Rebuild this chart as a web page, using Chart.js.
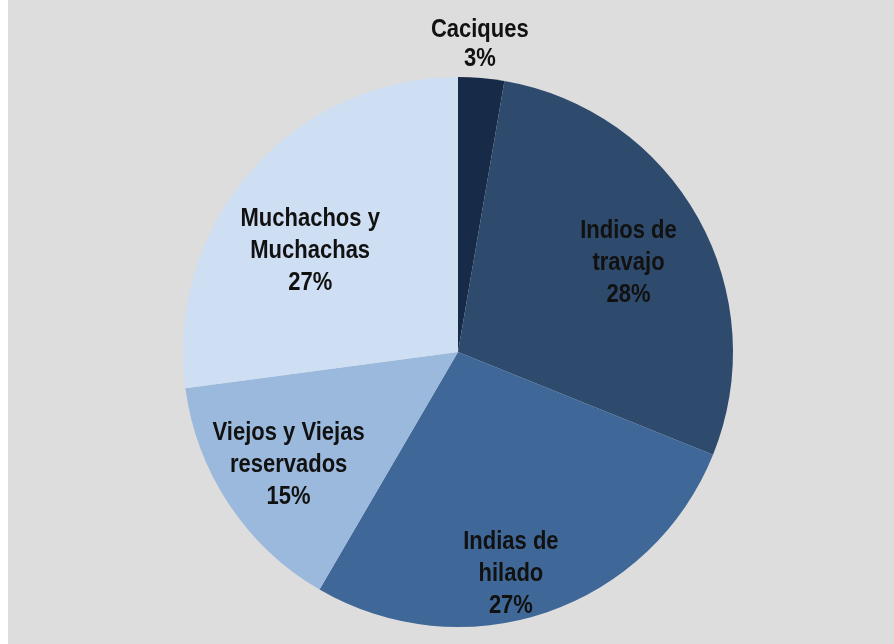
<!DOCTYPE html>
<html>
<head>
<meta charset="utf-8">
<script src="https://cdn.jsdelivr.net/npm/chart.js@4/dist/chart.umd.min.js"></script>
<style>
  html, body { margin:0; padding:0; background:#fff; }
  #wrap { position:absolute; left:8px; top:0; width:886px; height:644px; background:#dddddd; }
</style>
</head>
<body>
<div id="wrap"><canvas id="pie" width="886" height="644"></canvas></div>
<script>
const categories = ['Caciques', 'Indios de travajo', 'Indias de hilado', 'Viejos y Viejas reservados', 'Muchachos y Muchachas'];
const labelLines = [['Caciques'], ['Indios de', 'travajo'], ['Indias de', 'hilado'], ['Viejos y Viejas', 'reservados'], ['Muchachos y', 'Muchachas']];
const shares = [2.7, 28.4, 27.3, 14.5, 27.1];
const colors = ['#172b48', '#2e4a6c', '#3f6898', '#9bb9dc', '#cedef3'];

// label placement: fraction of radius and angular nudge (degrees)
const labelRadius = [1.12, 0.70, 0.83, 0.74, 0.65];
const labelNudge = [-0.8, 1.5, 5.5, 0, -7];

const fontFamily = '"Liberation Sans", Arial, sans-serif';

const labelPlugin = {
  id: 'sliceLabels',
  afterDatasetsDraw(chart) {
    const ctx = chart.ctx;
    const meta = chart.getDatasetMeta(0);
    ctx.save();
    ctx.fillStyle = '#111';
    ctx.font = 'bold 25px ' + fontFamily;
    ctx.textAlign = 'center';
    ctx.textBaseline = 'middle';
    meta.data.forEach((arc, i) => {
      const mid = (arc.startAngle + arc.endAngle) / 2 + labelNudge[i] * Math.PI / 180;
      const r = arc.outerRadius * labelRadius[i];
      const x = arc.x + Math.cos(mid) * r;
      const y = arc.y + Math.sin(mid) * r;
      const lines = labelLines[i].concat([Math.round(shares[i]) + '%']);
      const lh = i === 0 ? 29 : 32;
      const y0 = y - (lines.length - 1) * lh / 2;
      // narrow look: squeeze glyphs horizontally
      lines.forEach((t, k) => {
        ctx.save();
        ctx.translate(x, y0 + k * lh);
        ctx.scale(0.88, 1);
        ctx.fillText(t, 0, 0);
        ctx.restore();
      });
    });
    ctx.restore();
  }
};

new Chart(document.getElementById('pie'), {
  type: 'pie',
  data: { labels: categories, datasets: [{ data: shares, backgroundColor: colors, borderWidth: 0 }] },
  options: {
    responsive: false,
    animation: false,
    layout: { padding: { top: 77, bottom: 17, left: 14, right: 0 } },
    plugins: { legend: { display: false }, tooltip: { enabled: false } }
  },
  plugins: [labelPlugin]
});
</script>
</body>
</html>
